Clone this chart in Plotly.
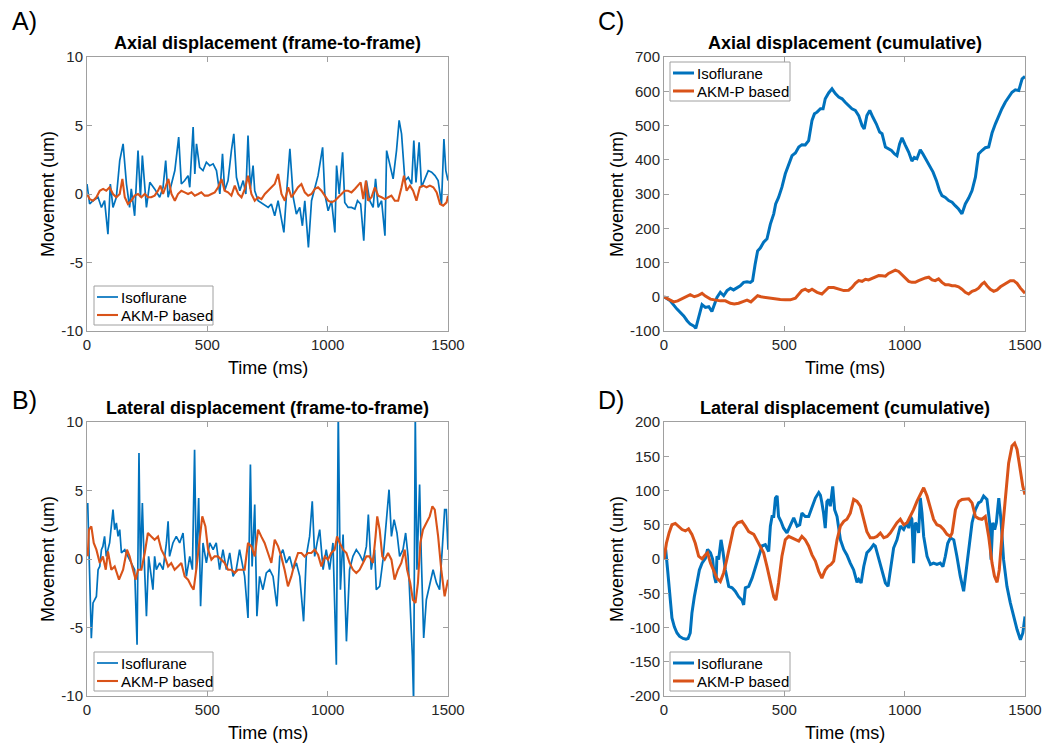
import plotly.graph_objects as go

BLUE = "#0072BD"
ORANGE = "#D95319"

# ---------------- Panel A: axial frame-to-frame ----------------
a_iso_t = [0, 11, 25, 46, 60, 73, 87, 97, 108, 122, 136, 150, 164, 177, 184, 198, 212, 222, 230, 247,
           261, 281, 302, 316, 327, 337, 351, 365, 381, 392, 406, 420, 427, 441, 448, 455, 468, 482, 496, 510,
           524, 538, 552, 563, 572, 586, 600, 610, 621, 635, 649, 660, 669, 679, 690, 697, 711, 732, 753, 766,
           780, 794, 808, 818, 829, 843, 857, 870, 884, 895, 905, 920, 933, 947, 960, 979, 988, 1002, 1016, 1030,
           1037, 1048, 1062, 1071, 1085, 1099, 1113, 1124, 1137, 1150, 1161, 1175, 1189, 1199, 1210, 1224, 1238, 1245, 1258, 1272,
           1286, 1297, 1307, 1321, 1335, 1349, 1358, 1367, 1380, 1390, 1404, 1418, 1432, 1446, 1459, 1473, 1483, 1491, 1500]
a_iso_v = [0.73, -0.73, -0.49, -0.24, -0.98, -0.49, -2.93, 0.73, -0.98, -0.24, 2.44, 3.66, 0.73, -0.98, 0.37, -1.59, 3.17, -0.24, 2.80, -0.98,
           0.85, 0.37, -0.24, 0.49, 2.44, -0.24, 0.73, 1.71, 4.15, 0.73, 0.98, 1.34, 0.49, 4.88, 1.46, 3.66, 1.95, 1.71, 2.32, 2.07,
           2.20, 1.71, 0.0, 2.93, 0.24, 0.98, 3.17, 4.39, 1.22, 0.24, 0.98, 0.0, 4.27, 0.37, 2.07, 0.24, -0.49, -0.73, -0.98, -0.73,
           -1.59, -0.49, -1.95, -2.80, 0.0, 3.29, -0.24, -1.46, -0.98, -2.32, -0.49, -3.90, -0.49, 0.49, 1.34, 3.41, 0.0, -1.22, -0.49, -2.80,
           2.07, 0.0, 3.05, -0.61, -0.98, -0.98, -1.10, -0.49, -0.73, -3.41, 0.98, -0.49, -0.98, 1.10, -0.98, -0.49, -3.05, 3.17, 2.07, 1.10,
           3.17, 5.37, 4.39, 0.98, 1.22, 0.73, 3.90, 0.85, 3.78, 0.49, 1.10, 1.71, 1.59, 1.34, 0.98, -0.73, 4.02, 1.71, 0.98]

a_akm_t = [0, 11, 25, 39, 53, 67, 80, 94, 108, 122, 136, 147, 157, 170, 184, 198, 212, 226, 240, 254,
           267, 281, 295, 305, 316, 327, 338, 351, 365, 378, 392, 406, 420, 434, 448, 462, 475, 489, 503, 517,
           531, 545, 559, 572, 586, 600, 614, 628, 642, 656, 669, 683, 697, 711, 725, 739, 753, 766, 780, 794,
           808, 822, 836, 850, 863, 877, 891, 905, 919, 933, 947, 960, 974, 988, 1002, 1016, 1030, 1044, 1058, 1071,
           1085, 1099, 1113, 1127, 1137, 1148, 1159, 1168, 1182, 1196, 1210, 1224, 1238, 1252, 1265, 1279, 1293, 1307, 1317, 1328,
           1342, 1355, 1369, 1383, 1397, 1411, 1425, 1439, 1453, 1467, 1480, 1494, 1500]
a_akm_v = [0.0, -0.37, -0.49, -0.24, 0.24, 0.37, 0.24, 0.49, 0.0, -0.24, 0.0, 1.10, -0.24, -0.73, -0.49, -0.12, 0.0, -0.24, 0.0, -0.24,
           -0.24, -0.12, 0.24, 0.61, 0.0, 0.49, 1.10, 0.0, -0.49, 0.0, 0.24, 0.12, 0.0, 0.12, -0.12, 0.0, 0.12, -0.12, -0.12, 0.0,
           0.12, 0.49, 1.10, 0.24, 0.12, -0.12, 0.61, 0.0, -0.24, 0.37, 1.34, 0.0, -0.49, -0.24, -0.37, 0.0, 0.24, 0.49, 0.73, 1.46,
           0.0, -0.49, 0.49, -0.24, 0.12, 0.49, 0.73, 0.12, -0.12, 0.0, 0.37, 0.49, 0.24, -0.12, -0.49, -0.61, -0.49, -0.24, 0.0, 0.24,
           0.24, 0.12, 0.37, 0.61, 0.85, -0.37, 0.98, -0.49, -0.24, 0.49, -0.12, -0.24, -0.37, -0.24, -0.12, -0.49, -0.49, 0.49, 1.34, 0.24,
           0.61, 0.24, -0.49, 0.49, 0.61, 0.49, 0.61, 0.49, 0.12, -0.73, -0.85, -0.61, -0.12]

# ---------------- Panel B: lateral frame-to-frame ----------------
b_iso_t = [3, 11, 18, 25, 32, 39, 46, 53, 60, 66, 73, 80, 94, 108, 115, 122, 129, 136, 143, 157,
           170, 184, 198, 208, 216, 222, 230, 235, 247, 256, 267, 274, 281, 288, 302, 316, 330, 337, 343, 357,
           371, 385, 399, 413, 427, 438, 447, 454, 464, 472, 482, 496, 510, 524, 537, 551, 565, 579, 593, 607,
           620, 634, 655, 669, 679, 686, 697, 706, 717, 731, 745, 759, 773, 789, 801, 814, 828, 842, 856, 870,
           884, 900, 911, 925, 936, 946, 956, 967, 981, 994, 1008, 1022, 1036, 1044, 1053, 1064, 1078, 1091, 1105, 1119,
           1133, 1147, 1161, 1169, 1181, 1195, 1202, 1216, 1230, 1244, 1255, 1265, 1276, 1288, 1299, 1313, 1324, 1334, 1343, 1352,
           1357, 1364, 1371, 1382, 1389, 1399, 1410, 1424, 1438, 1452, 1465, 1476, 1486, 1493, 1500]
b_iso_v = [4.09, -0.78, -5.79, -3.21, -2.97, -2.73, -0.78, -0.54, 0.68, 0.92, 1.65, 0.19, 1.17, 3.60, 2.14, 2.63, 1.65, 2.14, 0.44, 0.68,
           0.19, -0.29, -0.78, -6.25, 7.74, -0.78, 4.09, 1.17, -4.18, 0.19, -1.27, -2.24, 0.19, -0.78, -0.29, -0.78, 1.17, 2.75, 0.19, 1.17,
           1.65, 1.17, 1.90, -1.27, 0.19, -0.78, 7.98, -0.78, 4.45, -3.45, 1.17, -0.29, 1.17, 0.68, 1.17, -0.78, 0.68, -0.78, 0.44, -1.27,
           -0.78, 0.68, -1.27, -4.31, 6.89, -0.54, 3.97, -4.18, -1.27, -2.24, -1.02, -0.78, -1.27, -3.45, 0.19, 0.68, -0.29, 0.19, -0.78, -0.29,
           -1.27, -4.55, 0.19, 1.65, 4.21, 0.19, 1.17, 2.14, -0.78, 0.68, -0.78, 1.17, -7.71, 10.6, -2.24, 1.78, -6.01, -0.78, 0.19, 0.68,
           0.32, -0.17, 0.92, 3.24, -0.78, 0.68, -2.24, -2.00, -0.05, 2.87, 5.06, 1.65, 2.87, 1.90, 0.19, 0.68, 1.90, 0.19, -3.21, -7.10,
           -10.4, 10.5, -0.78, 5.43, 0.19, -5.77, -2.97, -1.75, -0.78, -1.75, -2.24, 0.68, 3.60, 3.60, 0.68]

b_akm_t = [3, 8, 18, 28, 39, 53, 66, 78, 87, 101, 115, 133, 150, 166, 177, 191, 202, 212, 226, 240,
           253, 267, 281, 295, 309, 323, 337, 350, 364, 378, 392, 406, 420, 434, 443, 454, 468, 479, 492, 503,
           517, 530, 544, 558, 572, 586, 600, 614, 627, 641, 655, 669, 683, 697, 711, 724, 738, 752, 766, 780,
           794, 807, 821, 835, 849, 863, 877, 891, 904, 918, 932, 946, 960, 974, 988, 1001, 1015, 1029, 1039, 1050,
           1064, 1078, 1091, 1105, 1119, 1133, 1147, 1161, 1174, 1188, 1199, 1206, 1216, 1227, 1237, 1251, 1265, 1278, 1292, 1306,
           1320, 1330, 1343, 1354, 1365, 1375, 1385, 1396, 1410, 1424, 1435, 1445, 1459, 1472, 1486, 1493, 1500]
b_akm_v = [0.19, 2.14, 2.38, 1.17, 0.68, -0.29, 0.19, -0.78, 0.56, -0.78, -0.54, -1.51, -0.78, 0.68, 0.19, -0.78, -1.51, -0.78, -0.78, 0.44,
           1.90, 1.65, 1.41, 1.65, 0.68, 0.19, -0.54, -0.29, -0.78, -0.54, -0.29, -1.27, -1.51, -2.00, -2.24, -0.78, 1.65, 3.11, 2.38, 0.68,
           -0.05, 0.19, 0.19, -0.05, -0.29, -0.78, -0.78, -1.02, -0.78, -0.78, -0.78, 1.17, 0.92, 0.19, 2.14, 1.65, 1.17, 0.44, -0.29, 1.41,
           0.92, 0.19, -0.78, -2.00, -1.27, -0.29, 0.44, 0.44, 0.19, 0.44, 0.44, 0.68, 0.32, -0.54, 0.19, -0.05, 0.44, 0.68, 1.65, 1.17,
           0.68, 0.44, -0.29, -0.78, -1.02, -0.78, -0.29, 0.19, 0.19, -0.29, 1.65, 3.11, 2.14, 0.19, -0.05, 0.44, -0.05, -1.51, -0.78, -0.29,
           0.68, -0.78, -1.75, -2.97, -3.21, -1.75, 1.17, 2.14, 2.63, 3.11, 3.84, 3.60, 1.65, -0.78, -2.73, -2.00, -1.51]

# ---------------- Panel C: axial cumulative ----------------
c_iso_t = [0, 26, 54, 82, 96, 109, 123, 132, 144, 158, 172, 186, 199, 209, 220, 234, 248, 262, 276, 289,
           303, 317, 331, 345, 359, 368, 379, 389, 400, 414, 428, 442, 456, 464, 476, 490, 504, 518, 532, 546,
           560, 573, 587, 601, 615, 625, 636, 650, 661, 670, 684, 698, 712, 726, 740, 753, 767, 781, 795, 809,
           823, 832, 843, 855, 868, 882, 896, 906, 920, 931, 945, 958, 968, 979, 989, 1003, 1017, 1030, 1040, 1051,
           1065, 1076, 1090, 1104, 1118, 1132, 1145, 1155, 1169, 1183, 1197, 1210, 1224, 1238, 1252, 1266, 1280, 1294, 1307, 1321,
           1335, 1349, 1363, 1377, 1391, 1404, 1418, 1432, 1446, 1460, 1474, 1488, 1500]
c_iso_v = [0, -12, -36, -56, -70, -80, -85, -92, -60, -23, -31, -29, -43, -26, -2, 13, 3, 18, 25, 20,
           27, 32, 42, 44, 42, 47, 96, 134, 142, 159, 169, 212, 242, 271, 290, 320, 359, 388, 412, 420,
           437, 444, 443, 456, 515, 534, 539, 549, 549, 578, 595, 607, 593, 583, 578, 568, 558, 549, 544, 529,
           500, 490, 529, 544, 524, 505, 481, 476, 437, 432, 427, 417, 412, 446, 464, 442, 422, 396, 407, 403,
           429, 417, 398, 383, 364, 339, 310, 295, 290, 281, 276, 266, 256, 242, 271, 288, 310, 349, 417, 427,
           435, 437, 478, 505, 529, 549, 568, 583, 597, 604, 602, 636, 643]

c_akm_t = [0, 19, 40, 57, 75, 89, 109, 126, 140, 158, 172, 193, 213, 234, 255, 276, 292, 310, 328, 345,
           361, 375, 389, 403, 421, 442, 463, 483, 504, 525, 546, 560, 573, 587, 601, 615, 636, 656, 670, 684,
           705, 726, 747, 767, 781, 795, 809, 823, 837, 850, 864, 878, 892, 906, 920, 933, 947, 961, 975, 989,
           1003, 1017, 1030, 1044, 1058, 1072, 1086, 1100, 1114, 1127, 1141, 1155, 1169, 1183, 1197, 1210, 1224, 1238, 1252, 1266,
           1280, 1294, 1307, 1321, 1331, 1342, 1356, 1370, 1384, 1398, 1411, 1425, 1439, 1453, 1467, 1481, 1494, 1500]
c_akm_v = [0, -7, -15, -12, -5, 0, 6, 0, 3, 10, 2, -7, -10, -12, -12, -19, -21, -19, -14, -10,
           -15, -7, 3, 0, -2, -4, -5, -8, -9, -9, -4, 8, 18, 22, 16, 22, 13, 8, 18, 27,
           27, 22, 18, 19, 27, 39, 47, 45, 51, 49, 54, 57, 62, 61, 60, 68, 74, 78, 74, 64,
           55, 45, 42, 42, 47, 52, 55, 57, 49, 47, 52, 42, 35, 35, 32, 32, 29, 22, 13, 8,
           16, 19, 25, 37, 42, 32, 22, 16, 20, 29, 35, 40, 47, 47, 39, 25, 16, 10]

# ---------------- Panel D: lateral cumulative ----------------
d_iso_t = [0, 7, 15, 24, 33, 43, 54, 65, 79, 91, 100, 109, 116, 126, 137, 147, 158, 172, 181, 193,
           202, 209, 216, 220, 227, 237, 245, 255, 269, 283, 296, 310, 324, 331, 338, 352, 366, 379, 393, 407,
           421, 435, 442, 449, 456, 463, 470, 476, 486, 497, 511, 525, 539, 553, 564, 573, 587, 601, 615, 629,
           643, 650, 656, 663, 670, 677, 684, 691, 701, 709, 719, 733, 747, 760, 774, 788, 802, 809, 819, 830,
           843, 857, 871, 878, 892, 906, 920, 931, 940, 954, 968, 982, 996, 1010, 1017, 1024, 1030, 1037, 1044, 1051,
           1058, 1065, 1072, 1079, 1093, 1107, 1120, 1134, 1148, 1159, 1169, 1179, 1190, 1204, 1217, 1231, 1245, 1256, 1266, 1280,
           1294, 1307, 1317, 1328, 1342, 1353, 1359, 1366, 1374, 1381, 1391, 1400, 1411, 1425, 1439, 1453, 1467, 1481, 1491, 1500]
d_iso_v = [6, 14, -16, -55, -86, -99, -108, -113, -116, -117, -116, -108, -79, -55, -35, -16, -6, 1, 14, 9,
           0, -25, -35, 4, -1, 28, 11, -16, -40, -42, -47, -55, -60, -67, -42, -40, -28, -13, 4, 19,
           21, 11, 48, 62, 62, 89, 92, 62, 55, 45, 38, 50, 60, 48, 50, 67, 62, 62, 75, 89,
           97, 93, 82, 67, 45, 84, 87, 77, 106, 72, 62, 28, 14, 6, -6, -16, -34, -30, -35, -11,
           9, 14, 21, 19, 1, -16, -35, -40, -20, 16, 28, 48, 43, 53, 45, 62, 58, -6, 53, 50,
           38, 89, 67, 33, 4, -8, -6, -8, -6, -11, 4, 23, 31, 28, 4, -25, -47, -16, 19, 53,
           72, 82, 84, 92, 87, 53, -1, 53, 43, 53, 89, 58, -1, -40, -64, -84, -103, -118, -108, -84]

d_akm_t = [0, 10, 21, 33, 47, 61, 75, 89, 102, 116, 130, 144, 158, 172, 181, 193, 206, 220, 234, 248,
           262, 276, 289, 306, 324, 338, 352, 373, 386, 400, 414, 428, 442, 456, 465, 476, 490, 504, 518, 532,
           546, 560, 573, 587, 601, 615, 629, 643, 656, 670, 681, 694, 705, 719, 733, 747, 760, 774, 788, 802,
           816, 830, 843, 857, 871, 885, 899, 913, 927, 940, 954, 968, 982, 996, 1010, 1024, 1037, 1051, 1065, 1079,
           1093, 1107, 1120, 1134, 1148, 1162, 1176, 1190, 1197, 1211, 1225, 1238, 1252, 1266, 1280, 1294, 1307, 1321, 1335, 1349,
           1363, 1373, 1384, 1393, 1404, 1418, 1432, 1446, 1457, 1467, 1481, 1491, 1500]
d_akm_v = [0, 23, 38, 50, 52, 48, 43, 41, 44, 36, 23, 4, 0, 6, 9, -6, -16, -28, -33, -20,
           1, 26, 45, 53, 55, 48, 40, 36, 28, 19, 9, -11, -35, -55, -60, -35, 4, 28, 33, 31,
           28, 26, 33, 28, 19, 6, -3, -18, -28, -16, -11, -8, -3, 28, 48, 55, 58, 67, 87, 84,
           77, 58, 40, 31, 31, 33, 38, 31, 33, 38, 45, 53, 58, 50, 53, 62, 72, 84, 94, 104,
           92, 72, 58, 50, 48, 43, 36, 33, 38, 72, 84, 87, 87, 88, 82, 62, 59, 58, 62, 33,
           -6, -25, -34, -16, 33, 92, 140, 165, 169, 160, 131, 106, 94]

x_ticks = [0, 500, 1000, 1500]
ab_ticks = [-10, -5, 0, 5, 10]
c_ticks = [-100, 0, 100, 200, 300, 400, 500, 600, 700]
d_ticks = [-200, -150, -100, -50, 0, 50, 100, 150, 200]

titles = ["Axial displacement (frame-to-frame)", "Lateral displacement (frame-to-frame)",
          "Axial displacement (cumulative)", "Lateral displacement (cumulative)"]
panel_labels = ["A)", "B)", "C)", "D)"]
series_names = ["Isoflurane", "AKM-P based"]

FONT = "Liberation Sans, Arial, sans-serif"
W, H = 1050, 753
FRAME = "#a0a0a0"


def px(x):
    return x / W


def py(y):
    return 1 - y / H


fig = go.Figure()

# panel geometry (in pixels): left, right, top, bottom
geo = {
    1: (87, 448, 57, 331),
    2: (87, 448, 422, 696),
    3: (664, 1025, 57, 331),
    4: (664, 1025, 422, 696),
}

# series per panel and their line widths
data = {
    1: (a_iso_t, a_iso_v, a_akm_t, a_akm_v, 1.7, 2.1),
    2: (b_iso_t, b_iso_v, b_akm_t, b_akm_v, 1.7, 2.1),
    3: (c_iso_t, c_iso_v, c_akm_t, c_akm_v, 3.0, 3.0),
    4: (d_iso_t, d_iso_v, d_akm_t, d_akm_v, 3.0, 3.0),
}

for k in range(1, 5):
    it, iv, at, av, lw1, lw2 = data[k]
    xa = "x" if k == 1 else f"x{k}"
    ya = "y" if k == 1 else f"y{k}"
    fig.add_trace(go.Scatter(x=it, y=iv, mode="lines", name=series_names[0], showlegend=False,
                             line=dict(color=BLUE, width=lw1), xaxis=xa, yaxis=ya))
    fig.add_trace(go.Scatter(x=at, y=av, mode="lines", name=series_names[1], showlegend=False,
                             line=dict(color=ORANGE, width=lw2), xaxis=xa, yaxis=ya))

yranges = {1: ([-10, 10], ab_ticks), 2: ([-10, 10], ab_ticks), 3: ([-100, 700], c_ticks), 4: ([-200, 200], d_ticks)}

axis_common = dict(showgrid=False, zeroline=False, showline=True, linecolor=FRAME, linewidth=1,
                   mirror="ticks", ticks="inside", ticklen=5, tickcolor=FRAME,
                   tickfont=dict(family=FONT, size=15, color="#262626"))

layout = dict(width=W, height=H, margin=dict(l=0, r=0, t=0, b=0, pad=0, autoexpand=False),
              plot_bgcolor="white", paper_bgcolor="white", font=dict(family=FONT, color="#262626"),
              showlegend=False)

for k in range(1, 5):
    l, r, t, b = geo[k]
    xname = "xaxis" if k == 1 else f"xaxis{k}"
    yname = "yaxis" if k == 1 else f"yaxis{k}"
    anchor_x = "y" if k == 1 else f"y{k}"
    anchor_y = "x" if k == 1 else f"x{k}"
    layout[xname] = dict(domain=[px(l), px(r)], anchor=anchor_x, range=[0, 1500], automargin=False,
                         tickvals=x_ticks, ticktext=[str(v) for v in x_ticks], **axis_common)
    yr, yt = yranges[k]
    layout[yname] = dict(domain=[py(b), py(t)], anchor=anchor_y, range=yr, automargin=False,
                         tickvals=yt, ticktext=[str(v) for v in yt], **axis_common)

fig.update_layout(**layout)

annotations = []
shapes = []
for k in range(1, 5):
    l, r, t, b = geo[k]
    cx = (l + r) / 2
    cy = (t + b) / 2
    annotations.append(dict(x=px(cx), y=py(t - 14), xref="paper", yref="paper", text="<b>" + titles[k - 1] + "</b>",
                            showarrow=False, font=dict(family=FONT, size=18, color="#000"), xanchor="center", yanchor="middle"))
    annotations.append(dict(x=px(cx), y=py(b + 37), xref="paper", yref="paper", text="Time (ms)",
                            showarrow=False, font=dict(family=FONT, size=18, color="#000"), xanchor="center", yanchor="middle"))
    ylx = 48 if k in (1, 2) else 617
    annotations.append(dict(x=px(ylx), y=py(cy), xref="paper", yref="paper", text="Movement (um)", textangle=-90,
                            showarrow=False, font=dict(family=FONT, size=18, color="#000"), xanchor="center", yanchor="middle"))
    plx = 24 if k in (1, 2) else 611
    ply = 21 if k in (1, 3) else 400
    annotations.append(dict(x=px(plx), y=py(ply), xref="paper", yref="paper", text=panel_labels[k - 1],
                            showarrow=False, font=dict(family=FONT, size=25, color="#000"), xanchor="center", yanchor="middle"))

# legend boxes (MATLAB style): left, top, right, bottom in pixels
legend_boxes = {1: (94, 286, 213, 325), 2: (94, 652, 213, 691), 3: (670, 62, 790, 101), 4: (670, 652, 790, 691)}
for k, (lx0, ly0, lx1, ly1) in legend_boxes.items():
    lw1, lw2 = data[k][4], data[k][5]
    shapes.append(dict(type="rect", xref="paper", yref="paper", x0=px(lx0), x1=px(lx1), y0=py(ly1), y1=py(ly0),
                       line=dict(color=FRAME, width=1), fillcolor="white", layer="above"))
    row_y = [ly0 + 11, ly0 + 29]
    for name, color, lw, yy in zip(series_names, [BLUE, ORANGE], [lw1, lw2], row_y):
        shapes.append(dict(type="line", xref="paper", yref="paper", x0=px(lx0 + 3), x1=px(lx0 + 24),
                           y0=py(yy), y1=py(yy), line=dict(color=color, width=lw), layer="above"))
        annotations.append(dict(x=px(lx0 + 25), y=py(yy), xref="paper", yref="paper", text=name,
                                showarrow=False, font=dict(family=FONT, size=15, color="#000"),
                                xanchor="left", yanchor="middle"))

fig.update_layout(annotations=annotations, shapes=shapes)

fig.write_html("out.html", config={"displayModeBar": False},
               post_script="document.body.style.margin='0';document.body.style.padding='0';")
